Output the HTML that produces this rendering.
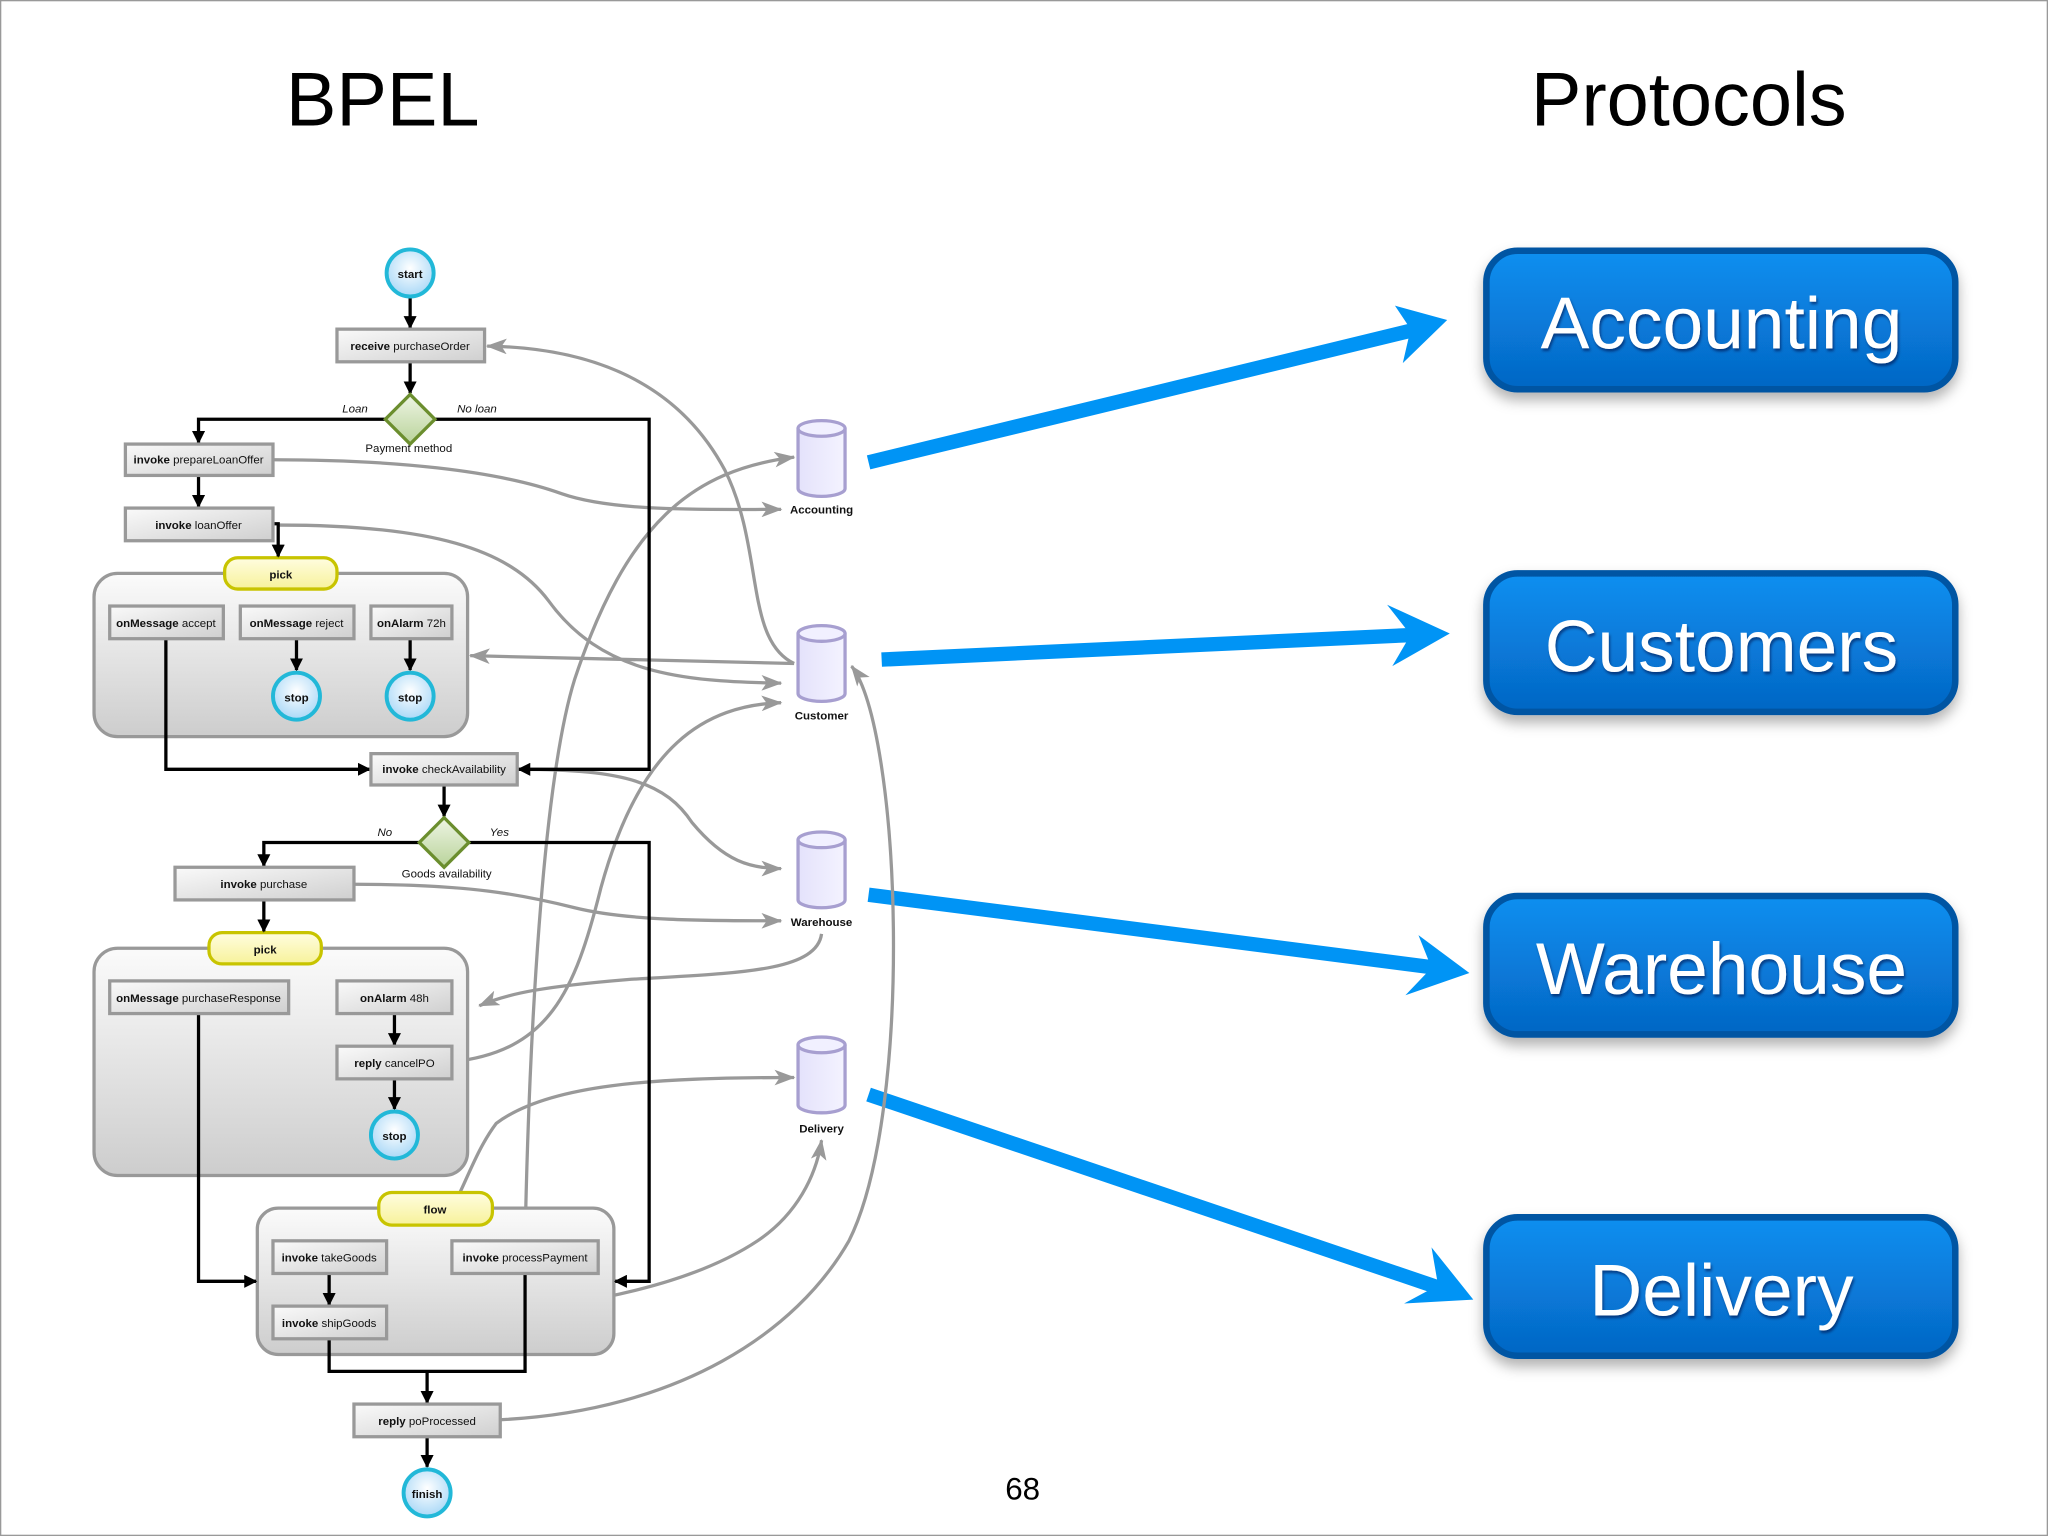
<!DOCTYPE html>
<html><head><meta charset="utf-8"><style>
html,body{margin:0;padding:0;background:#fff}
svg{display:block}
.t{font-family:"Liberation Sans",sans-serif;font-size:8.8px;fill:#111}
.b{font-weight:bold}
</style></head><body>
<svg width="2048" height="1536" viewBox="0 0 1568 1176" xmlns="http://www.w3.org/2000/svg">
<defs>
<linearGradient id="box" x1="0" y1="0" x2="1" y2="1"><stop offset="0" stop-color="#fafafa"/><stop offset="1" stop-color="#cfcfcf"/></linearGradient>
<linearGradient id="grp" x1="0" y1="0" x2="0" y2="1"><stop offset="0" stop-color="#fbfbfb"/><stop offset="1" stop-color="#cdcdcd"/></linearGradient>
<linearGradient id="yel" x1="0" y1="0" x2="0" y2="1"><stop offset="0" stop-color="#fffde0"/><stop offset="1" stop-color="#f7f29a"/></linearGradient>
<radialGradient id="circ" cx="0.5" cy="0.4" r="0.6"><stop offset="0" stop-color="#ffffff"/><stop offset="1" stop-color="#a9d8f7"/></radialGradient>
<linearGradient id="dia" x1="0" y1="0" x2="0" y2="1"><stop offset="0" stop-color="#eef5e4"/><stop offset="1" stop-color="#b9d39a"/></linearGradient>
<linearGradient id="cyl" x1="0" y1="0" x2="1" y2="0"><stop offset="0" stop-color="#e4e2fb"/><stop offset="1" stop-color="#f4f3ff"/></linearGradient>
<linearGradient id="btn" x1="0" y1="0" x2="0" y2="1"><stop offset="0" stop-color="#0a8ff0"/><stop offset="1" stop-color="#0566c4"/></linearGradient>
<filter id="sh" x="-10%" y="-10%" width="120%" height="140%"><feDropShadow dx="0" dy="6" stdDeviation="5" flood-color="#000" flood-opacity="0.3"/></filter>
<filter id="ts"><feDropShadow dx="1" dy="2" stdDeviation="1" flood-color="#003" flood-opacity="0.5"/></filter>
<marker id="ak" markerWidth="10" markerHeight="10" refX="9" refY="5" orient="auto" markerUnits="userSpaceOnUse"><path d="M0,0 L10,5 L0,10 Z" fill="#000"/></marker>
<marker id="ag" markerWidth="16" markerHeight="12" refX="15" refY="6" orient="auto" markerUnits="userSpaceOnUse"><path d="M0,0 L16,6 L0,12 L4,6 Z" fill="#999"/></marker>
</defs>
<rect x="0.5" y="0.5" width="1567" height="1175" fill="#fff" stroke="#999"/>
<text x="293" y="96" font-family="Liberation Sans,sans-serif" font-size="58" text-anchor="middle" fill="#000">BPEL</text>
<text x="1293" y="96" font-family="Liberation Sans,sans-serif" font-size="58" text-anchor="middle" fill="#000">Protocols</text>

<g font-family="Liberation Sans,sans-serif" font-size="56" fill="#fff" text-anchor="middle">
<g filter="url(#sh)"><rect x="1138" y="192" width="359" height="106" rx="24" fill="url(#btn)" stroke="#0055a3" stroke-width="5"/></g>
<text x="1318" y="267" filter="url(#ts)">Accounting</text>
<g filter="url(#sh)"><rect x="1138" y="439" width="359" height="106" rx="24" fill="url(#btn)" stroke="#0055a3" stroke-width="5"/></g>
<text x="1318" y="514" filter="url(#ts)">Customers</text>
<g filter="url(#sh)"><rect x="1138" y="686" width="359" height="106" rx="24" fill="url(#btn)" stroke="#0055a3" stroke-width="5"/></g>
<text x="1318" y="761" filter="url(#ts)">Warehouse</text>
<g filter="url(#sh)"><rect x="1138" y="932" width="359" height="106" rx="24" fill="url(#btn)" stroke="#0055a3" stroke-width="5"/></g>
<text x="1318" y="1007" filter="url(#ts)">Delivery</text>
</g>

<g stroke="#0094f5" stroke-width="11" fill="#0094f5">
<line x1="665" y1="354" x2="1085" y2="252"/>
<path d="M1108,245 L1068,234 L1080,252 L1074,278 Z" stroke="none"/>
<line x1="675" y1="505" x2="1085" y2="486"/>
<path d="M1110,485 L1062,463 L1080,486 L1066,510 Z" stroke="none"/>
<line x1="665" y1="685" x2="1100" y2="741"/>
<path d="M1125,745 L1086,716 L1096,741 L1076,762 Z" stroke="none"/>
<line x1="665" y1="838" x2="1105" y2="987"/>
<path d="M1128,995 L1096,955 L1101,984 L1075,998 Z" stroke="none"/>
</g>

<g fill="none" stroke="#999" stroke-width="2.5">
<path d="M608,508 C570,490 585,420 555,360 C515,285 440,266 373,265" marker-end="url(#ag)"/>
<path d="M209,352 C300,352 380,360 430,378 C470,392 540,390 598,390" marker-end="url(#ag)"/>
<path d="M213,402 C330,402 390,420 420,460 C460,515 520,522 598,523" marker-end="url(#ag)"/>
<path d="M608,508 L360,502" marker-end="url(#ag)"/>
<path d="M402,950 C405,800 415,600 440,520 C480,400 530,360 608,350" marker-end="url(#ag)"/>
<path d="M398,589 C480,589 510,600 530,630 C555,660 575,665 598,665" marker-end="url(#ag)"/>
<path d="M271,677 C360,677 400,685 440,695 C480,705 540,705 598,705" marker-end="url(#ag)"/>
<path d="M629,715 C625,745 560,745 480,750 C420,755 390,760 367,770" marker-end="url(#ag)"/>
<path d="M346,813 C420,805 440,760 460,680 C490,570 540,540 598,538" marker-end="url(#ag)"/>
<path d="M296,962 C350,955 350,900 380,860 C420,830 500,825 608,825" marker-end="url(#ag)"/>
<path d="M296,1012 C420,1005 520,990 580,950 C610,930 625,900 629,873" marker-end="url(#ag)"/>
<path d="M383,1087 C520,1080 610,1020 650,950 C700,850 690,560 652,510" marker-end="url(#ag)"/>
</g>

<g stroke="#a79fd0" stroke-width="2.5" fill="url(#cyl)">
<path d="M611,328 v46 a18,6 0 0 0 36,0 v-46"/><ellipse cx="629" cy="328" rx="18" ry="6" fill="#f1f0ff"/>
<path d="M611,485 v46 a18,6 0 0 0 36,0 v-46"/><ellipse cx="629" cy="485" rx="18" ry="6" fill="#f1f0ff"/>
<path d="M611,643 v46 a18,6 0 0 0 36,0 v-46"/><ellipse cx="629" cy="643" rx="18" ry="6" fill="#f1f0ff"/>
<path d="M611,800 v46 a18,6 0 0 0 36,0 v-46"/><ellipse cx="629" cy="800" rx="18" ry="6" fill="#f1f0ff"/>
</g>
<g text-anchor="middle">
<text x="629" y="393" class="t b">Accounting</text>
<text x="629" y="551" class="t b">Customer</text>
<text x="629" y="709" class="t b">Warehouse</text>
<text x="629" y="867" class="t b">Delivery</text>
</g>

<g stroke="#999" stroke-width="2.5" fill="url(#grp)">
<rect x="72" y="439" width="286" height="125" rx="18"/>
<rect x="72" y="726" width="286" height="174" rx="18"/>
<rect x="197" y="925" width="273" height="112" rx="16"/>
</g>
<g stroke="#c8c400" stroke-width="2.5" fill="url(#yel)">
<rect x="172" y="427" width="86" height="24" rx="10"/>
<rect x="160" y="714" width="86" height="24" rx="10"/>
<rect x="290" y="913" width="87" height="25" rx="10"/>
</g>
<g text-anchor="middle">
<text x="215" y="443" class="t b">pick</text>
<text x="203" y="730" class="t b">pick</text>
<text x="333" y="929" class="t b">flow</text>
</g>

<g fill="none" stroke="#000" stroke-width="2.5">
<path d="M314,228 V251" marker-end="url(#ak)"/>
<path d="M314,277 V301" marker-end="url(#ak)"/>
<path d="M295,321 H152 V339" marker-end="url(#ak)"/>
<path d="M333,321 H497 V589 H397" marker-end="url(#ak)"/>
<path d="M152,364 V388" marker-end="url(#ak)"/>
<path d="M209,401 H213 V426" marker-end="url(#ak)"/>
<path d="M127,489 V589 H283" marker-end="url(#ak)"/>
<path d="M227,489 V513" marker-end="url(#ak)"/>
<path d="M314,489 V513" marker-end="url(#ak)"/>
<path d="M340,601 V625" marker-end="url(#ak)"/>
<path d="M321,645 H202 V663" marker-end="url(#ak)"/>
<path d="M359,645 H497 V981 H471" marker-end="url(#ak)"/>
<path d="M202,689 V713" marker-end="url(#ak)"/>
<path d="M152,776 V981 H196" marker-end="url(#ak)"/>
<path d="M302,776 V800" marker-end="url(#ak)"/>
<path d="M302,826 V849" marker-end="url(#ak)"/>
<path d="M252,975 V999" marker-end="url(#ak)"/>
<path d="M252,1025 V1050 H402 V975"/>
<path d="M327,1050 V1074" marker-end="url(#ak)"/>
<path d="M327,1100 V1123" marker-end="url(#ak)"/>
</g>

<g stroke="#999" stroke-width="2.5" fill="url(#box)">
<rect x="258" y="252" width="113" height="25"/>
<rect x="96" y="340" width="113" height="24"/>
<rect x="96" y="389" width="113" height="25"/>
<rect x="84" y="464" width="87" height="25"/>
<rect x="184" y="464" width="87" height="25"/>
<rect x="284" y="464" width="62" height="25"/>
<rect x="284" y="577" width="112" height="24"/>
<rect x="134" y="664" width="137" height="25"/>
<rect x="84" y="751" width="137" height="25"/>
<rect x="258" y="751" width="88" height="25"/>
<rect x="258" y="801" width="88" height="25"/>
<rect x="209" y="950" width="87" height="25"/>
<rect x="346" y="950" width="112" height="25"/>
<rect x="209" y="1000" width="87" height="25"/>
<rect x="271" y="1075" width="112" height="25"/>
</g>
<g class="t" text-anchor="middle">
<text x="314" y="268"><tspan class="b">receive</tspan> purchaseOrder</text>
<text x="152" y="355"><tspan class="b">invoke</tspan> prepareLoanOffer</text>
<text x="152" y="405"><tspan class="b">invoke</tspan> loanOffer</text>
<text x="127" y="480"><tspan class="b">onMessage</tspan> accept</text>
<text x="227" y="480"><tspan class="b">onMessage</tspan> reject</text>
<text x="315" y="480"><tspan class="b">onAlarm</tspan> 72h</text>
<text x="340" y="592"><tspan class="b">invoke</tspan> checkAvailability</text>
<text x="202" y="680"><tspan class="b">invoke</tspan> purchase</text>
<text x="152" y="767"><tspan class="b">onMessage</tspan> purchaseResponse</text>
<text x="302" y="767"><tspan class="b">onAlarm</tspan> 48h</text>
<text x="302" y="817"><tspan class="b">reply</tspan> cancelPO</text>
<text x="252" y="966"><tspan class="b">invoke</tspan> takeGoods</text>
<text x="402" y="966"><tspan class="b">invoke</tspan> processPayment</text>
<text x="252" y="1016"><tspan class="b">invoke</tspan> shipGoods</text>
<text x="327" y="1091"><tspan class="b">reply</tspan> poProcessed</text>
</g>

<g stroke="#22b8d8" stroke-width="3" fill="url(#circ)">
<circle cx="314" cy="209" r="18"/>
<circle cx="227" cy="533" r="18"/>
<circle cx="314" cy="533" r="18"/>
<circle cx="302" cy="869" r="18"/>
<circle cx="327" cy="1143" r="18"/>
</g>
<g text-anchor="middle">
<text x="314" y="213" class="t b">start</text>
<text x="227" y="537" class="t b">stop</text>
<text x="314" y="537" class="t b">stop</text>
<text x="302" y="873" class="t b">stop</text>
<text x="327" y="1147" class="t b">finish</text>
</g>

<g stroke="#6b8e2e" stroke-width="2.5" fill="url(#dia)">
<path d="M314,302 L333,321 L314,340 L295,321 Z"/>
<path d="M340,626 L359,645 L340,664 L321,645 Z"/>
</g>
<g class="t" font-style="italic">
<text x="262" y="316">Loan</text>
<text x="350" y="316">No loan</text>
<text x="289" y="640">No</text>
<text x="375" y="640">Yes</text>
</g>
<g class="t" text-anchor="middle">
<text x="313" y="346">Payment method</text>
<text x="342" y="672">Goods availability</text>
</g>

<text x="783" y="1148" font-family="Liberation Sans,sans-serif" font-size="24" text-anchor="middle" fill="#000">68</text>
</svg>
</body></html>
